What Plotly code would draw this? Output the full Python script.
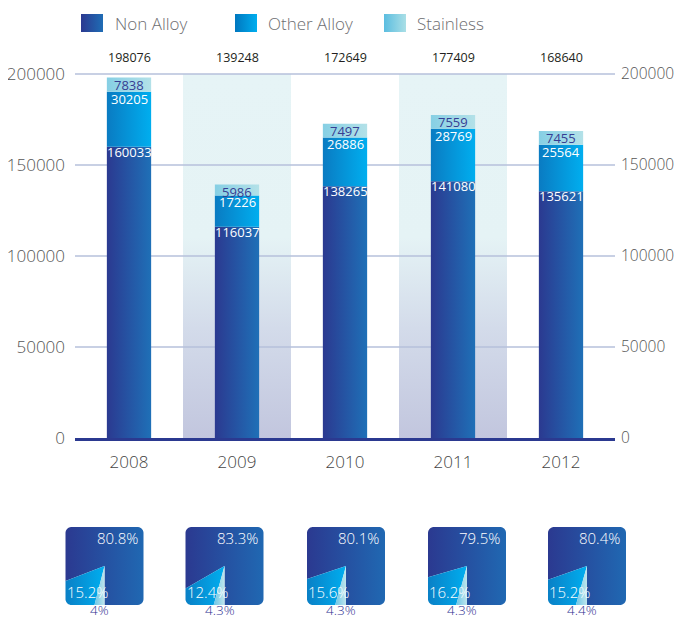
import numpy as np
import plotly.graph_objects as go

# ---------------- data ----------------
years = ["2008", "2009", "2010", "2011", "2012"]
non_alloy = [160033, 116037, 138265, 141080, 135621]
other_alloy = [30205, 17226, 26886, 28769, 25564]
stainless = [7838, 5986, 7497, 7559, 7455]
totals = [198076, 139248, 172649, 177409, 168640]
share_non = [80.8, 83.3, 80.1, 79.5, 80.4]
share_other = [15.2, 12.4, 15.6, 16.2, 15.2]
share_stainless = [4, 4.3, 4.3, 4.3, 4.4]
y_ticks = [0, 50000, 100000, 150000, 200000]
shaded_years = ["2009", "2011"]
series_names = ["Non Alloy", "Other Alloy", "Stainless"]

# ---------------- styling / layout ----------------
VIEW_W, VIEW_H = 683, 619
OFF = 8                      # page body margin
FW, FH = VIEW_W - OFF, VIEW_H - OFF
FONT = "Open Sans"
P_LEFT, P_RIGHT, P_BOTTOM, P_TOP = 75, 615, 438, 74  # screen pixel box of main plot
Y_TOP_VAL = y_ticks[-1]
YMAX = 203000
top_px = P_BOTTOM - (P_BOTTOM - P_TOP) * YMAX / Y_TOP_VAL
BW = 0.41


def fx(px):
    return (px - OFF) / FW


def fy(py):
    return 1 - (py - OFF) / FH


bar_grad = {
    "Non Alloy": ("#2b3990", "#1f70b7"),
    "Other Alloy": ("#0a7bc2", "#00aeef"),
    "Stainless": ("#86cfe4", "#b3e1e8"),
}
legend_grad = {
    "Non Alloy": ("#2b3990", "#1f6db5"),
    "Other Alloy": ("#0077bf", "#00aeef"),
    "Stainless": ("#5bbde0", "#aadfe6"),
}
square_grad = {
    "Non Alloy": ("#2b3990", "#2068b2"),
    "Other Alloy": ("#0a80c6", "#00aeef"),
    "Stainless": ("#6cc6e6", "#bfe5ec"),
}
label_colors = {"Non Alloy": "white", "Other Alloy": "white", "Stainless": "#363d93"}
label_drop = {"Non Alloy": -5, "Other Alloy": -7, "Stainless": -7}

fig = go.Figure()
annotations = []

# shaded bands
for yr in shaded_years:
    i = years.index(yr)
    fig.add_trace(go.Scatter(
        x=[i - 0.5, i + 0.5, i + 0.5, i - 0.5, i - 0.5],
        y=[0, 0, Y_TOP_VAL, Y_TOP_VAL, 0],
        fill="toself", mode="none", showlegend=False, hoverinfo="skip",
        fillgradient=dict(type="vertical",
                          colorscale=[[0, "#c2c6de"], [0.3, "#d3dbea"], [0.55, "#e5f3f5"], [1, "#e6f4f6"]],
                          start=0, stop=Y_TOP_VAL),
    ))

# grid lines (above bands, below bars)
for t in y_ticks[1:]:
    fig.add_trace(go.Scatter(x=[-0.5, 4.5], y=[t, t], mode="lines",
                             line=dict(color="#b6c1db", width=1.5),
                             showlegend=False, hoverinfo="skip"))

# stacked bars as gradient polygons
series_vals = [non_alloy, other_alloy, stainless]
for i, yr in enumerate(years):
    base = 0
    for name, vals in zip(series_names, series_vals):
        top = base + vals[i]
        c0, c1 = bar_grad[name]
        fig.add_trace(go.Scatter(
            x=[i - BW / 2, i + BW / 2, i + BW / 2, i - BW / 2, i - BW / 2],
            y=[base, base, top, top, base],
            fill="toself", mode="none", showlegend=False, hoverinfo="skip",
            fillgradient=dict(type="horizontal", colorscale=[[0, c0], [1, c1]],
                              start=i - BW / 2, stop=i + BW / 2),
        ))
        annotations.append(dict(x=i, y=top, xref="x", yref="y", text=str(vals[i]),
                                showarrow=False, yanchor="middle", xanchor="center",
                                yshift=label_drop[name], borderpad=0,
                                font=dict(family=FONT, size=13, color=label_colors[name])))
        base = top
    annotations.append(dict(x=i, y=fy(57), xref="x", yref="paper", text=str(totals[i]),
                            showarrow=False, yanchor="middle", xanchor="center",
                            font=dict(family=FONT, size=12.5, color="#231f20")))

# invisible trace for right axis
fig.add_trace(go.Scatter(x=[0], y=[0], yaxis="y2", mode="none", showlegend=False, hoverinfo="skip"))

# ---------------- pixel overlay (screen coords): legend + share squares ----------------
legend_x = [81, 235, 384]
legend_text_x = [113, 266, 415]
for name, lx, tx in zip(series_names, legend_x, legend_text_x):
    c0, c1 = legend_grad[name]
    fig.add_trace(go.Scatter(
        x=[lx, lx + 22, lx + 22, lx, lx], y=[14, 14, 32, 32, 14],
        xaxis="x3", yaxis="y3", fill="toself", mode="none",
        showlegend=False, hoverinfo="skip",
        fillgradient=dict(type="horizontal", colorscale=[[0, c0], [1, c1]]),
    ))
    annotations.append(dict(x=tx, y=23, xref="x3", yref="y3", text=name, showarrow=False,
                            xanchor="left", yanchor="middle",
                            font=dict(family=FONT, size=17, color="#6d6e71", weight=300)))

sq_cx = [104.5, 224.5, 346, 467, 587]
sq_cy = 566
sq_h = 39
sq_r = 6


def boundary_point(cx, cy, h, r, theta):
    dx, dy = -np.sin(theta), np.cos(theta)
    t = h / max(abs(dx), abs(dy))
    px, py = dx * t, dy * t
    k = h - r
    if abs(px) > k and abs(py) > k:
        ox, oy = np.sign(px) * k, np.sign(py) * k
        b = dx * ox + dy * oy
        c = ox * ox + oy * oy - r * r
        t = b + np.sqrt(max(b * b - c, 0))
        px, py = dx * t, dy * t
    return cx + px, cy + py


def sector(cx, cy, a0, a1):
    n = max(3, int(np.degrees(a1 - a0) * 2) + 2)
    th = np.linspace(a0, a1, n)
    xs, ys = [cx], [cy]
    for a in th:
        px, py = boundary_point(cx, cy, sq_h, sq_r, a)
        xs.append(px)
        ys.append(py)
    xs.append(cx)
    ys.append(cy)
    return xs, ys


for i in range(len(years)):
    cx = sq_cx[i]
    s = share_stainless[i] / 100 * 2 * np.pi
    o = share_other[i] / 100 * 2 * np.pi
    ranges = {"Stainless": (0, s), "Other Alloy": (s, s + o), "Non Alloy": (s + o, 2 * np.pi)}
    for name in ["Non Alloy", "Other Alloy", "Stainless"]:
        a0, a1 = ranges[name]
        xs, ys = sector(cx, sq_cy, a0, a1)
        c0, c1 = square_grad[name]
        g = dict(type="horizontal", colorscale=[[0, c0], [1, c1]])
        if name == "Non Alloy":
            g.update(start=cx - sq_h, stop=cx + sq_h)
        fig.add_trace(go.Scatter(x=xs, y=ys, xaxis="x3", yaxis="y3", fill="toself",
                                 mode="none", showlegend=False, hoverinfo="skip",
                                 fillgradient=g))
    annotations.append(dict(x=cx + sq_h - 4, y=538, xref="x3", yref="y3",
                            text=f"{share_non[i]:g}%", showarrow=False,
                            xanchor="right", yanchor="middle",
                            font=dict(family=FONT, size=15, color="white", weight=300)))
    annotations.append(dict(x=cx - sq_h - 1, y=592, xref="x3", yref="y3",
                            text=f"{share_other[i]:g}%", showarrow=False,
                            xanchor="left", yanchor="middle",
                            font=dict(family=FONT, size=15, color="white", weight=300)))
    annotations.append(dict(x=cx - 5, y=609.5, xref="x3", yref="y3",
                            text=f"{share_stainless[i]:g}%", showarrow=False,
                            xanchor="center", yanchor="middle", borderpad=0,
                            font=dict(family=FONT, size=13.5, color="#2e3192", weight=300)))

ydom = [fy(P_BOTTOM), fy(top_px)]
tickfont = dict(family=FONT, size=17, color="#555555", weight=300)

fig.update_layout(
    width=FW, height=FH,
    margin=dict(l=0, r=0, t=0, b=0, autoexpand=False),
    paper_bgcolor="white", plot_bgcolor="rgba(0,0,0,0)",
    showlegend=False,
    xaxis=dict(domain=[fx(P_LEFT), fx(P_RIGHT)], range=[-0.5, 4.5], automargin=False,
               tickvals=list(range(len(years))), ticktext=years,
               showgrid=False, zeroline=False, showline=True,
               linecolor="#2b3990", linewidth=3, ticks="",
               ticklabelstandoff=7, tickfont=dict(family=FONT, size=17, color="#444444", weight=300),
               fixedrange=True),
    yaxis=dict(domain=ydom, range=[0, YMAX], tickvals=y_ticks, automargin=False,
               ticktext=[str(t) for t in y_ticks],
               showgrid=False, zeroline=False, showline=False, ticks="",
               ticklabelstandoff=9, tickfont=tickfont, fixedrange=True),
    yaxis2=dict(domain=ydom, range=[0, YMAX], tickvals=y_ticks, automargin=False,
                ticktext=[str(t) for t in y_ticks], overlaying="y", side="right", anchor="x",
                showgrid=False, zeroline=False, showline=False, ticks="",
                ticklabelstandoff=5, tickfont=dict(family=FONT, size=15.5, color="#555555", weight=300),
                fixedrange=True),
    xaxis3=dict(domain=[0, 1], range=[OFF, VIEW_W], visible=False, anchor="y3", automargin=False,
                fixedrange=True),
    yaxis3=dict(domain=[0, 1], range=[VIEW_H, OFF], visible=False, anchor="x3", automargin=False,
                fixedrange=True),
    annotations=annotations,
)

fig.write_html("out.html")
